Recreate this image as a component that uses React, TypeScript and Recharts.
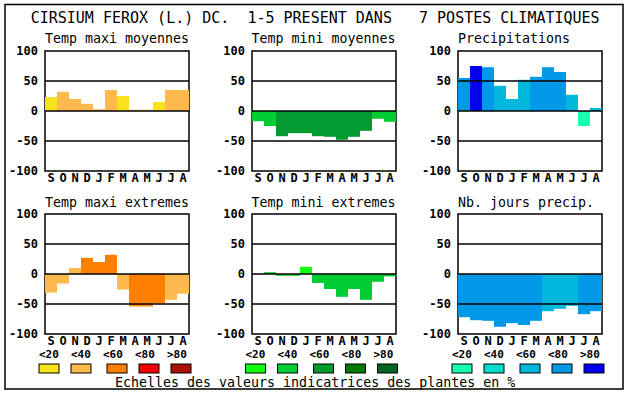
import { BarChart, Bar, XAxis, YAxis, Cell, ReferenceLine, ReferenceArea } from "recharts";

const months = ["S", "O", "N", "D", "J", "F", "M", "A", "M", "J", "J", "A"];
const yTicks = [-100, -50, 0, 50, 100];
const scaleLabels = ["<20", "<40", "<60", "<80", ">80"];

const warmColors = ["#F7E21B", "#FFBA4F", "#FF8000", "#EE0000", "#AA1100"];
const greenColors = ["#11FF11", "#00CC33", "#009A2E", "#007A00", "#006622"];
const blueColors = ["#19FFB0", "#00DDCC", "#00B8DC", "#0099E8", "#0000EE"];

// values in % and the colour class (index into the scale) of each month
const tmaxMoy = [23, 32, 20, 12, 3, 35, 25, 2, 2, 15, 35, 35];
const tmaxMoyLevel = [0, 1, 1, 1, 1, 1, 0, 1, 1, 0, 1, 1];

const tminMoy = [-17, -25, -42, -37, -37, -42, -43, -48, -43, -33, -13, -18];
const tminMoyLevel = [1, 1, 2, 2, 2, 2, 2, 2, 2, 2, 1, 1];

const precip = [55, 75, 73, 42, 20, 52, 57, 73, 65, 27, -25, 5];
const precipLevel = [3, 4, 3, 2, 2, 2, 3, 3, 3, 2, 0, 2];

const tmaxExt = [-31, -16, 10, 27, 20, 32, -26, -54, -54, -49, -43, -33];
const tmaxExtLevel = [1, 1, 1, 2, 2, 2, 1, 2, 2, 2, 1, 1];

const tminExt = [0, 3, -3, -3, 12, -15, -25, -38, -25, -43, -13, -4];
const tminExtLevel = [1, 1, 1, 1, 0, 1, 1, 1, 1, 1, 1, 1];

const nbJours = [-72, -77, -78, -88, -82, -85, -78, -62, -58, -53, -67, -62];
const nbJoursLevel = [3, 3, 3, 3, 3, 3, 3, 2, 2, 2, 3, 3];

const colX = [45, 251.5, 458];
const rowY = [50.5, 214];
const swatchOffsets = [-6, 26, 62, 94, 126];
const labelOffsets = [-6, 26, 58, 90, 122];

const FONT = '"DejaVu Sans Mono", monospace';
const PLOT_W = 144;
const PLOT_H = 120;
const Y_AXIS_W = 45;
const TOP = 12;
const RIGHT = 8;
const X_AXIS_H = 22;

type Panel = {
  title: string;
  values: number[];
  levels: number[];
  colors: string[];
};

const panels: Panel[] = [
  { title: "Temp maxi moyennes", values: tmaxMoy, levels: tmaxMoyLevel, colors: warmColors },
  { title: "Temp mini moyennes", values: tminMoy, levels: tminMoyLevel, colors: greenColors },
  { title: "Precipitations", values: precip, levels: precipLevel, colors: blueColors },
  { title: "Temp maxi extremes", values: tmaxExt, levels: tmaxExtLevel, colors: warmColors },
  { title: "Temp mini extremes", values: tminExt, levels: tminExtLevel, colors: greenColors },
  { title: "Nb. jours precip.", values: nbJours, levels: nbJoursLevel, colors: blueColors },
];

function MiniChart({ panel, x0, y0 }: { panel: Panel; x0: number; y0: number }) {
  const data = months.map((m, i) => ({ m, v: panel.values[i], level: panel.levels[i] }));
  return (
    <div style={{ position: "absolute", left: x0 - Y_AXIS_W, top: y0 - TOP }}>
      <BarChart
        width={Y_AXIS_W + PLOT_W + RIGHT}
        height={TOP + PLOT_H + X_AXIS_H}
        data={data}
        margin={{ top: TOP, right: RIGHT, left: 0, bottom: 0 }}
        barCategoryGap={0}
        barGap={0}
      >
        <XAxis
          dataKey="m"
          height={X_AXIS_H}
          axisLine={false}
          tickLine={false}
          tickSize={0}
          tickMargin={2.5}
          interval={0}
          tick={{ fill: "#000", fontSize: 12, fontWeight: "bold", fontFamily: FONT }}
        />
        <YAxis
          width={Y_AXIS_W}
          domain={[-100, 100]}
          ticks={yTicks}
          interval={0}
          axisLine={false}
          tickLine={false}
          tickSize={0}
          tickMargin={7}
          tick={{ fill: "#000", fontSize: 12, fontWeight: "bold", fontFamily: FONT }}
        />
        <Bar dataKey="v" isAnimationActive={false}>
          {data.map((d, i) => (
            <Cell key={i} fill={panel.colors[d.level]} />
          ))}
        </Bar>
        <ReferenceLine y={50} stroke="#000" strokeWidth={1.5} />
        <ReferenceLine y={0} stroke="#000" strokeWidth={1.5} />
        <ReferenceLine y={-50} stroke="#000" strokeWidth={1.5} />
        <ReferenceArea y1={-100} y2={100} fill="none" fillOpacity={0} stroke="#000" strokeWidth={1.5} />
      </BarChart>
    </div>
  );
}

export default function App() {
  return (
    <div style={{ position: "relative", width: 630, height: 394, background: "#fff", fontFamily: FONT }}>
      <style>{`body{margin:0}`}</style>
      <svg width={630} height={394} style={{ position: "absolute", left: 0, top: 0 }}>
        <rect x={5} y={4.5} width={618} height={384.5} fill="none" stroke="#000" strokeWidth={1.5} />
        <text x={30.7} y={23} fontSize={15} fill="#000" style={{ whiteSpace: "pre" }}>
          {"CIRSIUM FEROX (L.) DC.  1-5 PRESENT DANS   7 POSTES CLIMATIQUES"}
        </text>
        {panels.map((p, i) => (
          <text
            key={p.title}
            x={colX[i % 3]}
            y={rowY[Math.floor(i / 3)] - 7.2}
            fontSize={13.3}
            fill="#000"
          >
            {p.title}
          </text>
        ))}
        {[warmColors, greenColors, blueColors].map((cols, c) => (
          <g key={c}>
            {cols.map((col, k) => (
              <g key={k}>
                <text x={colX[c] + labelOffsets[k]} y={358} fontSize={11} fontWeight="bold" fill="#000">
                  {scaleLabels[k]}
                </text>
                <rect x={colX[c] + swatchOffsets[k]} y={364} width={20} height={9} fill={col} stroke="#000" strokeWidth={1} />
              </g>
            ))}
          </g>
        ))}
        <text x={115} y={386.5} fontSize={13.3} fill="#000">
          Echelles des valeurs indicatrices des plantes en %
        </text>
      </svg>
      {panels.map((p, i) => (
        <MiniChart key={p.title} panel={p} x0={colX[i % 3]} y0={rowY[Math.floor(i / 3)]} />
      ))}
    </div>
  );
}
